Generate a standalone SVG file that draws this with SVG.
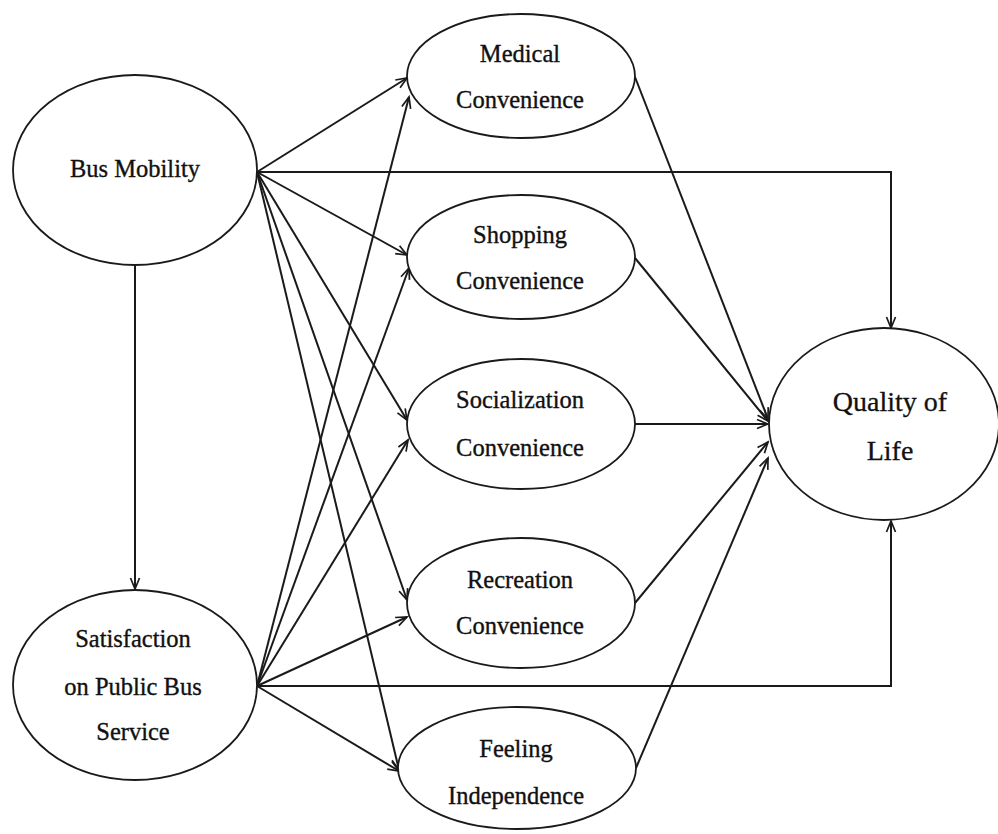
<svg xmlns="http://www.w3.org/2000/svg" width="998" height="834" viewBox="0 0 998 834">
  <style>
    .node ellipse { fill: #ffffff; stroke: #1a1a1a; stroke-width: 1.8; }
    .node text { font-family: "Liberation Serif", "Times New Roman", serif; font-size: 24.5px; fill: #111111; stroke: #111111; stroke-width: 0.35; text-anchor: middle; }
    .node text.big { font-size: 28px; stroke-width: 0.3; }
    .edges path { fill: none; stroke: #1a1a1a; stroke-width: 2; marker-end: url(#arrow); }
  </style>
  <defs>
    <marker id="arrow" markerUnits="userSpaceOnUse" markerWidth="14" markerHeight="12" refX="12" refY="5" orient="auto" viewBox="0 0 14 10">
      <path d="M1,0.5 L12,5 L1,9.5" fill="none" stroke="#1a1a1a" stroke-width="1.7"/>
    </marker>
  </defs>

  <rect width="998" height="834" fill="#ffffff"/>

  <!-- connectors -->
  <g id="connectors" class="edges">
    <!-- Bus Mobility to Satisfaction -->
    <path d="M135,265 L135,589"/>
    <!-- Bus Mobility outgoing -->
    <path d="M257,172 L407,78"/>
    <path d="M257,172 L407,255"/>
    <path d="M257,172 L407,420"/>
    <path d="M257,172 L407,600"/>
    <path d="M257,172 L399,770"/>
    <path d="M257,172 L891,172 L891,328"/>
    <!-- Satisfaction outgoing -->
    <path d="M257,686 L409,97"/>
    <path d="M257,686 L409,268"/>
    <path d="M257,686 L408,440"/>
    <path d="M257,686 L407,617"/>
    <path d="M257,686 L399,771"/>
    <path d="M257,686 L891,686 L891,521"/>
    <!-- middle constructs to Quality of Life -->
    <path d="M635,77 L768,419"/>
    <path d="M635,258 L768,421"/>
    <path d="M635,424 L768,424"/>
    <path d="M635,603 L768,442"/>
    <path d="M636,768 L768,458"/>
  </g>

  <g id="bus-mobility" class="node">
    <ellipse cx="135" cy="170" rx="122" ry="95"/>
    <text x="135" y="177">Bus Mobility</text>
  </g>

  <g id="satisfaction" class="node">
    <ellipse cx="135" cy="685" rx="122" ry="95"/>
    <text x="133" y="647">Satisfaction</text>
    <text x="133" y="695">on Public Bus</text>
    <text x="133" y="740">Service</text>
  </g>

  <g id="medical" class="node">
    <ellipse cx="521" cy="76" rx="114" ry="62"/>
    <text x="520" y="62">Medical</text>
    <text x="520" y="108">Convenience</text>
  </g>

  <g id="shopping" class="node">
    <ellipse cx="521" cy="257" rx="114" ry="62"/>
    <text x="520" y="243">Shopping</text>
    <text x="520" y="289">Convenience</text>
  </g>

  <g id="socialization" class="node">
    <ellipse cx="521" cy="424" rx="114" ry="65"/>
    <text x="520" y="408">Socialization</text>
    <text x="520" y="456">Convenience</text>
  </g>

  <g id="recreation" class="node">
    <ellipse cx="521" cy="603" rx="114" ry="65"/>
    <text x="520" y="588">Recreation</text>
    <text x="520" y="634">Convenience</text>
  </g>

  <g id="feeling" class="node">
    <ellipse cx="517" cy="768" rx="119" ry="61"/>
    <text x="516" y="757">Feeling</text>
    <text x="516" y="804">Independence</text>
  </g>

  <g id="quality-of-life" class="node">
    <ellipse cx="884" cy="424" rx="115" ry="96"/>
    <text class="big" x="890" y="411">Quality of</text>
    <text class="big" x="890" y="460">Life</text>
  </g>
</svg>
